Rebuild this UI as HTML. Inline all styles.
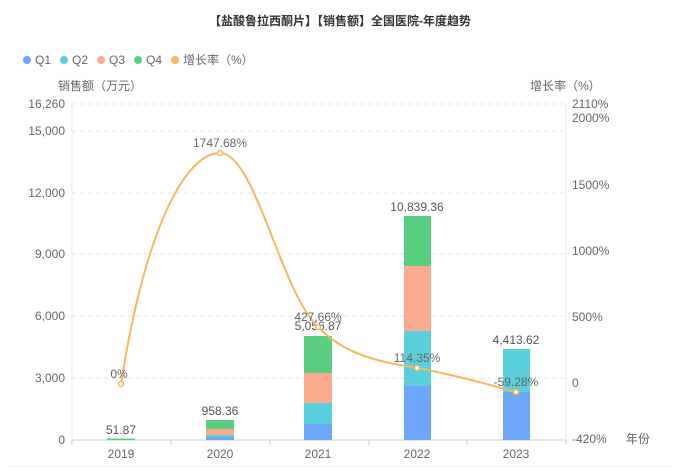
<!DOCTYPE html>
<html><head><meta charset="utf-8"><style>
body{margin:0;background:#fff;}
svg text{font-family:"Liberation Sans","Noto Sans CJK SC",sans-serif;}
</style></head><body>
<svg width="681" height="469" viewBox="0 0 681 469" xmlns="http://www.w3.org/2000/svg">
<text x="340" y="25" text-anchor="middle" font-size="12" font-weight="bold" fill="#333">【盐酸鲁拉西酮片】【销售额】全国医院-年度趋势</text>
<g font-size="12" fill="#666">
<circle cx="27" cy="60" r="4" fill="#6ea6fb"/><text x="35" y="64">Q1</text>
<circle cx="64" cy="60" r="4" fill="#5ad0dc"/><text x="72" y="64">Q2</text>
<circle cx="101" cy="60" r="4" fill="#fcab8f"/><text x="109" y="64">Q3</text>
<circle cx="138" cy="60" r="4" fill="#58cf80"/><text x="146" y="64">Q4</text>
<circle cx="175" cy="60" r="4" fill="#f4b75a"/><text x="183" y="64">增长率（%）</text>
<text x="58" y="90">销售额（万元）</text>
<text x="530" y="90">增长率（%）</text>
</g>
<g stroke="#e3e6ea" stroke-dasharray="4,4">
<line x1="72" y1="104" x2="566" y2="104"/><line x1="72" y1="131" x2="566" y2="131"/>
<line x1="72" y1="193" x2="566" y2="193"/><line x1="72" y1="254" x2="566" y2="254"/>
<line x1="72" y1="316" x2="566" y2="316"/><line x1="72" y1="378" x2="566" y2="378"/>
</g>
<line x1="72" y1="104" x2="72" y2="440" stroke="#e0e6f1"/>
<line x1="566" y1="104" x2="566" y2="440" stroke="#e0e6f1"/>
<line x1="72" y1="440" x2="566" y2="440" stroke="#ccc"/>
<line x1="10" y1="466" x2="671" y2="466" stroke="#eee"/>
<g stroke="#ccc"><line x1="72" y1="440" x2="72" y2="445"/><line x1="171" y1="440" x2="171" y2="445"/><line x1="270" y1="440" x2="270" y2="445"/><line x1="369" y1="440" x2="369" y2="445"/><line x1="467" y1="440" x2="467" y2="445"/><line x1="566" y1="440" x2="566" y2="445"/></g>
<g font-size="12" fill="#666" text-anchor="end">
<text x="65" y="108">16,260</text><text x="65" y="135">15,000</text><text x="65" y="197">12,000</text>
<text x="65" y="258">9,000</text><text x="65" y="320">6,000</text><text x="65" y="382">3,000</text><text x="65" y="444">0</text>
</g>
<g font-size="12" fill="#666">
<text x="572" y="108">2110%</text><text x="572" y="122">2000%</text><text x="572" y="189">1500%</text>
<text x="572" y="255">1000%</text><text x="572" y="321">500%</text><text x="572" y="387">0</text><text x="572" y="443">-420%</text>
<text x="626" y="443">年份</text>
</g>
<g font-size="12" fill="#666" text-anchor="middle">
<text x="121" y="458">2019</text><text x="220" y="458">2020</text><text x="318" y="458">2021</text><text x="417" y="458">2022</text><text x="516" y="458">2023</text>
</g>
<rect x="107" y="438.5" width="28" height="1.5" fill="#58cf80"/>
<rect x="206" y="437" width="28" height="3" fill="#6ea6fb"/>
<rect x="206" y="435" width="28" height="2" fill="#5ad0dc"/>
<rect x="206" y="429" width="28" height="6" fill="#fcab8f"/>
<rect x="206" y="420" width="28" height="9" fill="#58cf80"/>
<rect x="304" y="424" width="28" height="16" fill="#6ea6fb"/>
<rect x="304" y="403" width="28" height="21" fill="#5ad0dc"/>
<rect x="304" y="373" width="28" height="30" fill="#fcab8f"/>
<rect x="304" y="336" width="28" height="37" fill="#58cf80"/>
<rect x="404" y="386" width="27" height="54" fill="#6ea6fb"/>
<rect x="404" y="331" width="27" height="55" fill="#5ad0dc"/>
<rect x="404" y="266" width="27" height="65" fill="#fcab8f"/>
<rect x="404" y="216" width="27" height="50" fill="#58cf80"/>
<rect x="503" y="392" width="27" height="48" fill="#6ea6fb"/>
<rect x="503" y="349" width="27" height="43" fill="#5ad0dc"/>
<g font-size="12" fill="#555" text-anchor="middle">
<text x="121" y="434">51.87</text><text x="220" y="415">958.36</text><text x="318" y="330">5,056.87</text>
<text x="417" y="211">10,839.36</text><text x="516" y="344">4,413.62</text>
</g>
<path d="M121,384 C145,230 185,153 220,153 C255,153 280,290 318,327 C345,355 380,362 417,368 C455,375 490,385 516,392" fill="none" stroke="#f2b95e" stroke-width="2"/>
<g fill="#fff" stroke="#f2b95e" stroke-width="1.5">
<circle cx="121" cy="384" r="2.5"/><circle cx="220" cy="153" r="2.5"/><circle cx="318" cy="327" r="2.5"/><circle cx="417" cy="368" r="2.5"/><circle cx="516" cy="392" r="2.5"/>
</g>
<g font-size="12" fill="#666" text-anchor="middle">
<text x="119" y="378">0%</text><text x="220" y="147">1747.68%</text><text x="318" y="321">427.66%</text>
<text x="417" y="362">114.35%</text><text x="516" y="386">-59.28%</text>
</g>
</svg>
</body></html>
